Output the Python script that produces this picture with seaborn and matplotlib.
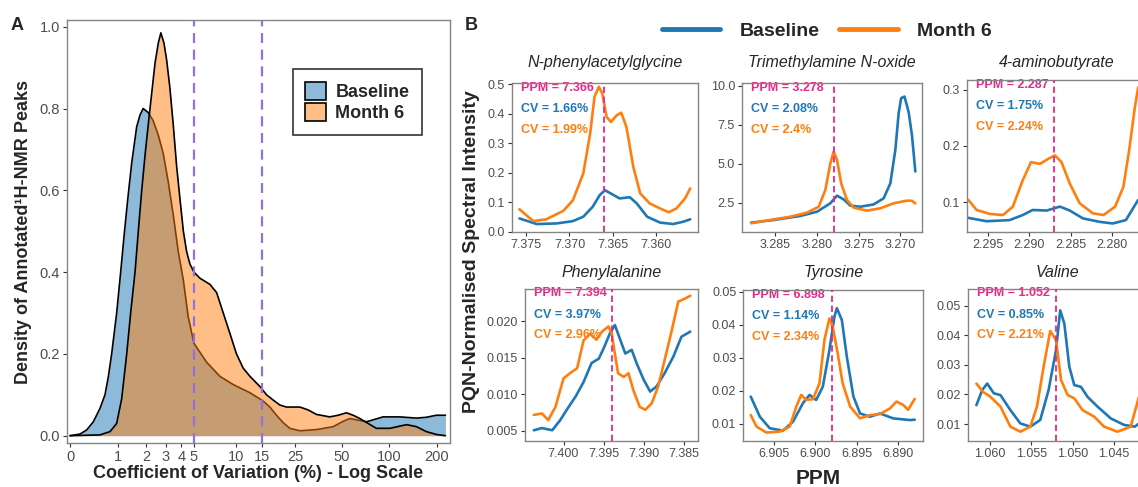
import numpy as np
import pandas as pd
import matplotlib
matplotlib.use("Agg")
import matplotlib.pyplot as plt
import seaborn as sns
from matplotlib.patches import Patch
from matplotlib.lines import Line2D

sns.set_theme(style="white")
plt.rcParams['font.family'] = ['Liberation Sans', 'DejaVu Sans']

BLUE = "#1F77B4"
ORANGE = "#FF7F0E"
PINK = "#E7298A"
PURPLE = "#9370DB"
TICKC = "#4D4D4D"
SPINE = "#858585"

# ---------------- Panel A data (density of CV, log1p axis) ----------------
cv_ticks = [0, 1, 2, 3, 4, 5, 10, 15, 25, 50, 100, 200]
cv_thresholds = [5, 15]
base_cv = [0.0, 0.155, 0.272, 0.401, 0.543, 0.658, 0.740, 0.826, 0.963, 1.080, 1.193,
           1.301, 1.438, 1.621, 1.750, 1.88, 2.102, 2.33, 2.584, 2.85, 3.141, 3.45,
           3.785, 4.15, 4.529, 5.0, 6.2, 7.74, 9.6, 12.5, 15.3, 17.0, 18.8, 20.8, 23.0,
           26.8, 34.3, 43.9, 50.9, 56.2, 63.5, 71.8, 81.1, 91.5, 117, 149, 172, 199, 227]
base_density = [0.0, 0.004, 0.014, 0.034, 0.067, 0.10, 0.144, 0.20, 0.30, 0.40, 0.495,
                0.576, 0.666, 0.755, 0.784, 0.80, 0.79, 0.77, 0.735, 0.69, 0.62, 0.54,
                0.45, 0.38, 0.29, 0.226, 0.18, 0.145, 0.125, 0.105, 0.085, 0.07, 0.05,
                0.032, 0.018, 0.012, 0.015, 0.022, 0.035, 0.042, 0.038, 0.034, 0.04,
                0.046, 0.046, 0.043, 0.045, 0.05, 0.05]
m6_cv = [0.0, 0.543, 0.783, 0.963, 1.110, 1.27, 1.403, 1.56, 1.685, 1.82, 1.984, 2.18,
         2.416, 2.584, 2.72, 2.89, 3.04, 3.24, 3.45, 3.67, 3.90, 4.15, 4.40, 4.66, 5.0,
         5.55, 6.56, 7.33, 8.17, 9.10, 10.1, 11.24, 12.5, 14.6, 16.15, 17.9, 19.8, 21.9,
         26.8, 30.3, 34.3, 41.8, 47.3, 53.5, 59.0, 65.1, 73.5, 83.0, 101, 129, 149, 172,
         199, 227]
m6_density = [0.0, 0.002, 0.01, 0.03, 0.09, 0.20, 0.30, 0.40, 0.50, 0.60, 0.70, 0.80,
              0.91, 0.96, 0.985, 0.96, 0.92, 0.85, 0.76, 0.66, 0.58, 0.50, 0.45, 0.42,
              0.40, 0.385, 0.37, 0.35, 0.30, 0.25, 0.20, 0.165, 0.145, 0.12, 0.10, 0.087,
              0.075, 0.07, 0.07, 0.063, 0.052, 0.046, 0.05, 0.056, 0.05, 0.042, 0.03,
              0.018, 0.018, 0.027, 0.022, 0.01, 0.003, 0.0]

# ---------------- Panel B data (spectra) ----------------
groups = ["Baseline", "Month 6"]
titles = ["N-phenylacetylglycine", "Trimethylamine N-oxide", "4-aminobutyrate",
          "Phenylalanine", "Tyrosine", "Valine"]
ppm_marks = [7.366, 3.278, 2.287, 7.394, 6.898, 1.052]
cv_base_txt = ["1.66%", "2.08%", "1.75%", "3.97%", "1.14%", "0.85%"]
cv_m6_txt = ["1.99%", "2.4%", "2.24%", "2.96%", "2.34%", "2.21%"]

nag_ppm_base = [7.3758, 7.3738, 7.3715, 7.3696, 7.3684, 7.3673, 7.3665, 7.3659, 7.3651,
                7.3642, 7.3630, 7.3622, 7.3610, 7.3595, 7.3580, 7.3568, 7.3560]
nag_int_base = [0.045, 0.026, 0.028, 0.036, 0.051, 0.085, 0.124, 0.141, 0.128, 0.113,
                0.117, 0.096, 0.051, 0.031, 0.026, 0.034, 0.042]
nag_ppm_m6 = [7.3758, 7.3742, 7.3727, 7.3707, 7.3696, 7.3684, 7.3676, 7.3671, 7.3666,
              7.3662, 7.3657, 7.3652, 7.3645, 7.3640, 7.3634, 7.3626, 7.3618, 7.3607,
              7.3595, 7.3585, 7.3576, 7.3566, 7.3560]
nag_int_m6 = [0.076, 0.036, 0.042, 0.071, 0.107, 0.198, 0.334, 0.458, 0.492, 0.470, 0.390,
              0.373, 0.396, 0.404, 0.356, 0.220, 0.130, 0.096, 0.079, 0.066, 0.079, 0.113,
              0.147]

tmao_ppm_base = [3.2879, 3.2852, 3.2820, 3.2800, 3.2784, 3.2776, 3.2768, 3.2760, 3.2748,
                 3.2732, 3.2720, 3.2712, 3.2706, 3.2702, 3.2699, 3.2695, 3.2690, 3.2686,
                 3.2682]
tmao_int_base = [1.22, 1.39, 1.65, 1.92, 2.46, 2.95, 2.71, 2.31, 2.24, 2.39, 2.78, 3.74,
                 5.88, 8.23, 9.2, 9.3, 8.3, 6.8, 4.5]
tmao_ppm_m6 = [3.2879, 3.2852, 3.2832, 3.2812, 3.2798, 3.2790, 3.2784, 3.2780, 3.2776,
               3.2771, 3.2764, 3.2756, 3.2740, 3.2724, 3.2708, 3.2692, 3.2686, 3.2682]
tmao_int_m6 = [1.18, 1.43, 1.60, 1.86, 2.24, 3.31, 5.02, 5.77, 5.24, 3.74, 2.67, 2.18,
               1.99, 2.14, 2.46, 2.63, 2.62, 2.45]

gaba_ppm_base = [2.2974, 2.2952, 2.2924, 2.2908, 2.2896, 2.2879, 2.2863, 2.2851, 2.2835,
                 2.2815, 2.2799, 2.2783, 2.2768]
gaba_int_base = [0.072, 0.066, 0.068, 0.077, 0.086, 0.085, 0.092, 0.085, 0.071, 0.065,
                 0.062, 0.068, 0.104]
gaba_ppm_m6 = [2.2974, 2.2964, 2.2948, 2.2932, 2.2920, 2.2908, 2.2898, 2.2887, 2.2877,
               2.2869, 2.2861, 2.2851, 2.2839, 2.2823, 2.2810, 2.2796, 2.2786, 2.2779,
               2.2772, 2.2768]
gaba_int_m6 = [0.104, 0.086, 0.079, 0.077, 0.092, 0.139, 0.171, 0.168, 0.177, 0.183,
               0.171, 0.133, 0.098, 0.080, 0.077, 0.092, 0.127, 0.192, 0.269, 0.304]

phe_ppm_base = [7.4037, 7.4027, 7.4014, 7.4004, 7.3996, 7.3985, 7.3975, 7.3965, 7.3956,
                7.3950, 7.3942, 7.3936, 7.3929, 7.3923, 7.3915, 7.3909, 7.3900, 7.3892,
                7.3884, 7.3874, 7.3863, 7.3853, 7.3842]
phe_int_base = [0.0051, 0.0054, 0.0051, 0.0065, 0.0079, 0.0097, 0.0117, 0.0143, 0.0149,
                0.0163, 0.0184, 0.0195, 0.0174, 0.0156, 0.0161, 0.0143, 0.0120, 0.0104,
                0.0111, 0.0129, 0.0152, 0.0179, 0.0186]
phe_ppm_m6 = [7.4037, 7.4027, 7.4019, 7.4010, 7.4000, 7.3992, 7.3983, 7.3975, 7.3967,
              7.3959, 7.3952, 7.3944, 7.3940, 7.3936, 7.3932, 7.3925, 7.3919, 7.3913,
              7.3905, 7.3898, 7.3890, 7.3882, 7.3874, 7.3865, 7.3857, 7.3849, 7.3842]
phe_int_m6 = [0.0072, 0.0074, 0.0065, 0.0083, 0.0122, 0.0129, 0.0136, 0.0174, 0.0183,
              0.0175, 0.0186, 0.0193, 0.0184, 0.0156, 0.0129, 0.0124, 0.0129, 0.0106,
              0.0083, 0.0079, 0.0088, 0.0111, 0.0147, 0.0188, 0.0227, 0.0231, 0.0235]

tyr_ppm_base = [6.9078, 6.9067, 6.9055, 6.9039, 6.9027, 6.9015, 6.9007, 6.8999, 6.8991,
                6.8983, 6.8977, 6.8974, 6.8968, 6.8962, 6.8954, 6.8946, 6.8934, 6.8922,
                6.8906, 6.8886, 6.8880]
tyr_int_base = [0.0182, 0.0121, 0.0086, 0.0079, 0.0106, 0.0162, 0.0187, 0.0172, 0.0212,
                0.0323, 0.0424, 0.0450, 0.0414, 0.0303, 0.0182, 0.0131, 0.0121, 0.0131,
                0.0116, 0.0111, 0.0112]
tyr_ppm_m6 = [6.9078, 6.9071, 6.9059, 6.9043, 6.9031, 6.9023, 6.9017, 6.9011, 6.9003,
              6.8995, 6.8989, 6.8983, 6.8979, 6.8973, 6.8967, 6.8958, 6.8946, 6.8934,
              6.8922, 6.8910, 6.8902, 6.8894, 6.8888, 6.8880]
tyr_int_m6 = [0.0126, 0.0091, 0.0073, 0.0076, 0.0091, 0.0152, 0.0187, 0.0172, 0.0174,
              0.0222, 0.0354, 0.0419, 0.0394, 0.0313, 0.0222, 0.0152, 0.0116, 0.0126,
              0.0129, 0.0146, 0.0167, 0.0157, 0.0142, 0.0175]

val_ppm_base = [1.0616, 1.0609, 1.0603, 1.0595, 1.0587, 1.0575, 1.0563, 1.0551, 1.0539,
                1.0529, 1.0520, 1.0515, 1.0510, 1.0504, 1.0498, 1.0490, 1.0482, 1.0470,
                1.0454, 1.0438, 1.0425, 1.0420]
val_int_base = [0.0164, 0.0215, 0.0237, 0.0204, 0.0198, 0.0147, 0.0102, 0.0091, 0.0114,
                0.0215, 0.0350, 0.0485, 0.0440, 0.0294, 0.0232, 0.0226, 0.0192, 0.0159,
                0.0119, 0.0097, 0.0091, 0.0102]
val_ppm_m6 = [1.0616, 1.0608, 1.0599, 1.0587, 1.0575, 1.0563, 1.0551, 1.0543, 1.0535,
              1.0527, 1.0520, 1.0514, 1.0506, 1.0498, 1.0488, 1.0474, 1.0462, 1.0446,
              1.0430, 1.0420]
val_int_m6 = [0.0237, 0.0209, 0.0192, 0.0159, 0.0091, 0.0074, 0.0091, 0.0159, 0.0294,
              0.0415, 0.0384, 0.0249, 0.0198, 0.0187, 0.0147, 0.0125, 0.0091, 0.0074,
              0.0091, 0.0192]

spectra = [
    (nag_ppm_base, nag_int_base, nag_ppm_m6, nag_int_m6),
    (tmao_ppm_base, tmao_int_base, tmao_ppm_m6, tmao_int_m6),
    (gaba_ppm_base, gaba_int_base, gaba_ppm_m6, gaba_int_m6),
    (phe_ppm_base, phe_int_base, phe_ppm_m6, phe_int_m6),
    (tyr_ppm_base, tyr_int_base, tyr_ppm_m6, tyr_int_m6),
    (val_ppm_base, val_int_base, val_ppm_m6, val_int_m6),
]
x_ticks = [[7.375, 7.370, 7.365, 7.360], [3.285, 3.280, 3.275, 3.270],
           [2.295, 2.290, 2.285, 2.280], [7.400, 7.395, 7.390, 7.385],
           [6.905, 6.900, 6.895, 6.890], [1.060, 1.055, 1.050, 1.045]]
y_ticks = [[0.0, 0.1, 0.2, 0.3, 0.4, 0.5], [2.5, 5.0, 7.5, 10.0], [0.1, 0.2, 0.3],
           [0.005, 0.010, 0.015, 0.020], [0.01, 0.02, 0.03, 0.04, 0.05],
           [0.01, 0.02, 0.03, 0.04, 0.05]]
y_fmt = ["%.1f", "%.1f", "%.1f", "%.3f", "%.2f", "%.2f"]
x_lims = [(7.3767, 7.3551), (3.2890, 3.2674), (2.2976, 2.27577),
          (7.4048, 7.3832), (6.9087, 6.8870), (1.06265, 1.04095)]
y_lims = [(0.0, 0.505), (0.64, 10.17), (0.0474, 0.317),
          (0.00363, 0.0245), (0.00475, 0.0505), (0.00425, 0.0559)]

# ---------------- figure ----------------
W, H = 1138, 487
fig = plt.figure(figsize=(W / 100, H / 100), dpi=100)


def px_axes(l, t, r, b):
    return fig.add_axes([l / W, 1 - b / H, (r - l) / W, (b - t) / H])


def style_axes(ax, labelsize):
    for s in ax.spines.values():
        s.set_visible(True)
        s.set_color(SPINE)
        s.set_linewidth(1.0)
    ax.tick_params(axis="both", which="major", bottom=True, left=True, length=3,
                   width=0.8, color="#333333", labelcolor=TICKC, labelsize=labelsize, pad=2)
    ax.tick_params(which="minor", bottom=False, left=False)
    ax.grid(False)
    ax.set_xlabel("")
    ax.set_ylabel("")


# Panel A
axA = px_axes(66.7, 20, 450, 443.3)
axA.fill_between(base_cv, base_density, 0, color=BLUE, alpha=0.5, lw=0, zorder=1.0)
sns.lineplot(x=base_cv, y=base_density, color="black", lw=1.2, ax=axA, zorder=1.1,
             estimator=None, sort=False)
axA.fill_between(m6_cv, m6_density, 0, color=ORANGE, alpha=0.5, lw=0, zorder=1.2)
sns.lineplot(x=m6_cv, y=m6_density, color="black", lw=1.2, ax=axA, zorder=1.3,
             estimator=None, sort=False)
for t in cv_thresholds:
    axA.axvline(t, color=PURPLE, lw=1.6, dashes=(4.5, 3), zorder=3)
axA.set_xscale("function", functions=(np.log1p, np.expm1))
axA.set_xlim(-0.047, 242.5)
axA.set_ylim(-0.0186, 1.0164)
axA.set_xticks(cv_ticks)
axA.set_xticklabels([str(t) for t in cv_ticks])
axA.set_yticks([0.0, 0.2, 0.4, 0.6, 0.8, 1.0])
axA.set_yticklabels(["%.1f" % v for v in [0.0, 0.2, 0.4, 0.6, 0.8, 1.0]])
style_axes(axA, 10.5)
handles = [Patch(facecolor=BLUE, alpha=0.5, edgecolor="black", lw=1.2),
           Patch(facecolor=ORANGE, alpha=0.5, edgecolor="black", lw=1.2)]
leg = axA.legend(handles, groups, loc="upper left", bbox_to_anchor=(0.59, 0.8835),
                 borderaxespad=0, fancybox=False, frameon=True, edgecolor="black",
                 prop={"weight": "bold", "size": 13}, handlelength=1.15, handleheight=1.15,
                 labelspacing=0.1, handletextpad=0.5, borderpad=0.7)
leg.get_frame().set_linewidth(1.2)
for h in leg.legend_handles:
    h.set_edgecolor("black")
    h.set_alpha(None)
leg.legend_handles[0].set_facecolor((BLUE, 0.5))
leg.legend_handles[1].set_facecolor((ORANGE, 0.5))

fig.text(258 / W, 1 - 473 / H, "Coefficient of Variation (%) - Log Scale",
         ha="center", va="center", fontsize=13, fontweight="bold")
fig.text(24 / W, 1 - 231.5 / H, "Density of Annotated¹H-NMR Peaks", rotation=90,
         ha="center", va="center", fontsize=13, fontweight="bold")
fig.text(17 / W, 1 - 26 / H, "A", ha="center", va="center", fontsize=13, fontweight="bold")
fig.text(471 / W, 1 - 26 / H, "B", ha="center", va="center", fontsize=13, fontweight="bold")

# Panel B
boxes = [(511.7, 83, 698, 231.7), (742, 83, 922, 231.7), (966.7, 80, 1146.7, 231.7),
         (525, 288.5, 698.3, 441), (743.3, 290, 923, 441), (967.7, 288.5, 1147.7, 441)]
title_y = [67.5, 67.5, 67.5, 277, 277, 277]
for i in range(6):
    l, t, r, b = boxes[i]
    ax = px_axes(l, t, r, b)
    pb, ib, pm, im = spectra[i]
    df = pd.DataFrame({
        "ppm": list(pb) + list(pm),
        "intensity": list(ib) + list(im),
        "group": [groups[0]] * len(pb) + [groups[1]] * len(pm),
    })
    sns.lineplot(data=df, x="ppm", y="intensity", hue="group", hue_order=groups,
                 palette=[BLUE, ORANGE], estimator=None, lw=1.9, legend=False, ax=ax,
                 zorder=2)
    ax.axvline(ppm_marks[i], color=PINK, lw=1.3, dashes=(3.5, 2), zorder=3)
    ax.set_xlim(*x_lims[i])
    ax.set_ylim(*y_lims[i])
    ax.set_xticks(x_ticks[i])
    ax.set_xticklabels(["%.3f" % v for v in x_ticks[i]])
    ax.set_yticks(y_ticks[i])
    ax.set_yticklabels([y_fmt[i] % v for v in y_ticks[i]])
    style_axes(ax, 9)
    labels = [("PPM = %.3f" % ppm_marks[i], PINK), ("CV = " + cv_base_txt[i], BLUE),
              ("CV = " + cv_m6_txt[i], ORANGE)]
    for k, (txt, col) in enumerate(labels):
        ax.annotate(txt, xy=(0, 1), xycoords="axes fraction",
                    xytext=(9 * 0.72, -(5 + 21 * k) * 0.72), textcoords="offset points",
                    ha="left", va="center", fontsize=9, fontweight="bold", color=col,
                    zorder=1)
    fig.text(((l + r) / 2) / W, 1 - title_y[i] / H, titles[i], ha="center",
             va="baseline", fontsize=11.5, style="italic")

fig.legend([Line2D([], [], color=BLUE, lw=3.5), Line2D([], [], color=ORANGE, lw=3.5)],
           groups, loc="center", bbox_to_anchor=(827 / W, 1 - 31 / H), ncol=2,
           frameon=False, prop={"weight": "bold", "size": 14}, handlelength=3.0,
           handletextpad=1.0, columnspacing=1.0)
fig.text(471 / W, 1 - 252 / H, "PQN-Normalised Spectral Intensity", rotation=90,
         ha="center", va="center", fontsize=14, fontweight="bold")
fig.text(818 / W, 1 - 478 / H, "PPM", ha="center", va="center", fontsize=15,
         fontweight="bold")

fig.savefig("out.png", dpi=100)
